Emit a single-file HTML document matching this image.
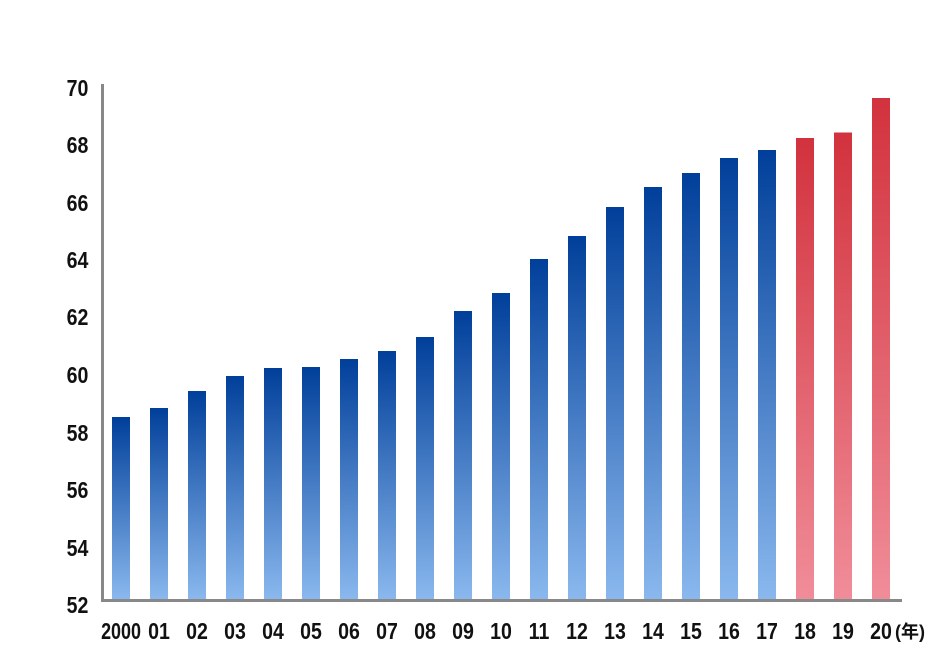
<!DOCTYPE html>
<html><head><meta charset="utf-8"><style>
body{margin:0;background:#fff;width:940px;height:660px;overflow:hidden}
svg text{font-family:"Liberation Sans","Noto Sans CJK JP",sans-serif;font-size:23px;fill:#111;font-weight:bold}
</style></head><body>
<svg width="940" height="660" xmlns="http://www.w3.org/2000/svg">
<defs>
<linearGradient id="b" x1="0" y1="0" x2="0" y2="1"><stop offset="0" stop-color="#003f9a"/><stop offset="1" stop-color="#8ab8ee"/></linearGradient>
<linearGradient id="r" x1="0" y1="0" x2="0" y2="1"><stop offset="0" stop-color="#d2323d"/><stop offset="1" stop-color="#f08d99"/></linearGradient>
</defs>
<g id="bars"></g>
<path d="M102.5 84 V600.5 H902" fill="none" stroke="#888" stroke-width="3"/>
<g text-anchor="end" transform="scale(0.85,1)">
<text x="104" y="613">52</text><text x="104" y="556">54</text><text x="104" y="498">56</text><text x="104" y="441">58</text><text x="104" y="383">60</text><text x="104" y="325">62</text><text x="104" y="268">64</text><text x="104" y="211">66</text><text x="104" y="153">68</text><text x="104" y="96">70</text>
</g>
<g id="xl" text-anchor="middle"></g>
<text x="895" y="638" style="font-size:18px">(年)</text>
</svg>
<script>
var tops=[417,408,391,376,368,367,359,351,337,311,293,259,236,207,187,173,158,150,138,132.5,98];
var labs=["2000","01","02","03","04","05","06","07","08","09","10","11","12","13","14","15","16","17","18","19","20"];
var g=document.getElementById("bars"),xl=document.getElementById("xl"),ns="http://www.w3.org/2000/svg";
tops.forEach(function(t,i){var x=112+i*38;var r=document.createElementNS(ns,"rect");
r.setAttribute("x",x);r.setAttribute("y",t);r.setAttribute("width",18);r.setAttribute("height",599-t);
r.setAttribute("fill",i>=18?"url(#r)":"url(#b)");g.appendChild(r);
var tx=document.createElementNS(ns,"text");var cx=x+9;
tx.setAttribute("x",0);tx.setAttribute("y",639);tx.setAttribute("transform","translate("+cx+",0) scale("+(i==0?0.78:0.85)+",1)");
tx.textContent=labs[i];xl.appendChild(tx);});
</script>
</body></html>
